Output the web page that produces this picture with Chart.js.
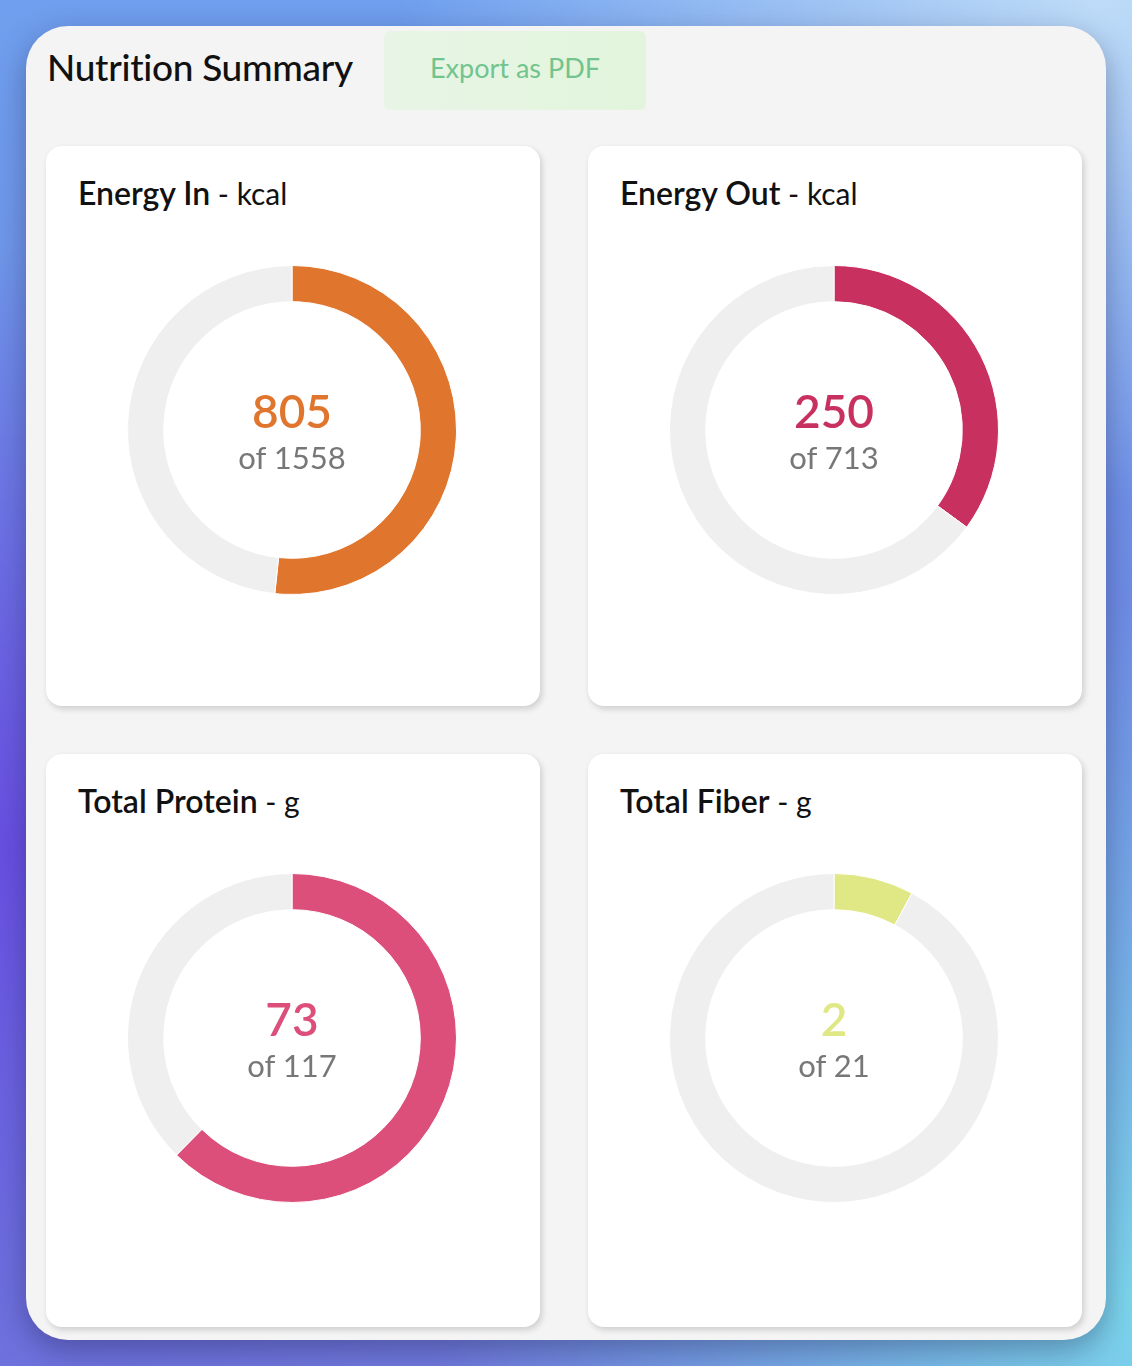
<!DOCTYPE html>
<html>
<head>
<meta charset="utf-8">
<script src="https://cdn.jsdelivr.net/npm/chart.js@4.4.1/dist/chart.umd.min.js"></script>
<style>
  html, body { margin: 0; padding: 0; }
  body {
    width: 1132px; height: 1366px; overflow: hidden; position: relative;
    font-family: Lato, "Noto Sans", sans-serif;
    background:
      radial-gradient(ellipse 700px 600px at 0px 850px, rgba(104, 76, 226, 0.95), rgba(104, 76, 226, 0) 100%),
      radial-gradient(ellipse 700px 700px at 1132px 1300px, rgba(124, 214, 236, 1), rgba(124, 214, 236, 0) 100%),
      radial-gradient(ellipse 700px 500px at 1100px 0px, rgba(190, 220, 248, 1), rgba(190, 220, 248, 0) 100%),
      linear-gradient(180deg, #6f9fee 0%, #6f8ee6 40%, #6f78dc 100%);
  }
  .panel {
    position: absolute; left: 26px; top: 26px; width: 1080px; height: 1314px;
    background: #f4f4f4; border-radius: 42px;
    box-shadow: 0 10px 30px rgba(20, 20, 60, 0.35);
  }
  .title {
    position: absolute; left: 21px; top: 19px; font-size: 37px; line-height: 44px;
    color: #111; font-weight: 500; letter-spacing: -0.3px;
  }
  .btn {
    position: absolute; left: 358px; top: 5px; width: 262px; height: 79px;
    background: linear-gradient(90deg, #e8f5e6, #e2f5dc); border-radius: 6px;
    color: #72c48e; font-size: 27px; line-height: 73px; text-align: center;
  }
  .card {
    position: absolute; width: 494px; background: #fff; border-radius: 16px;
    box-shadow: 2px 3px 6px rgba(0, 0, 0, 0.16);
  }
  .card h2 {
    position: absolute; left: 32px; top: 27px; margin: 0; font-size: 32px; line-height: 40px;
    font-weight: 600; color: #111; white-space: nowrap;
  }
  .card h2 span { font-weight: 400; font-size: 30px; }
  .ring { position: absolute; left: 81px; top: 119px; width: 330px; height: 330px; }
  .val, .goal { position: absolute; left: 0; width: 330px; text-align: center; white-space: nowrap; }
  .val { top: 123px; font-size: 46px; line-height: 46px; font-weight: 600; }
  .goal { top: 177px; font-size: 31px; line-height: 31px; color: #777; }
</style>
</head>
<body>
<div class="panel" id="panel">
  <div class="title">Nutrition Summary</div>
  <div class="btn">Export as PDF</div>
</div>
<script>
const cardTitles = ['Energy In', 'Energy Out', 'Total Protein', 'Total Fiber'];
const cardUnits = ['kcal', 'kcal', 'g', 'g'];
// consumed amounts (fiber arc shows ~1.65, label rounds to 2)
const consumed = [805, 250, 73, 1.65];
const goals = [1558, 713, 117, 21];

const ringColors = ['#e0762e', '#c8305f', '#dc4f7b', '#dfe885'];
const trackColor = '#efefef';
const cardPos = [[20, 120, 560], [562, 120, 560], [20, 728, 573], [562, 728, 573]];

const panel = document.getElementById('panel');

cardTitles.forEach((title, i) => {
    const card = document.createElement('div');
    card.className = 'card';
    card.style.left = cardPos[i][0] + 'px';
    card.style.top = cardPos[i][1] + 'px';
    card.style.height = cardPos[i][2] + 'px';
    card.innerHTML = `
      <h2>${title}<span> - ${cardUnits[i]}</span></h2>
      <div class="ring">
        <canvas id="ring${i}" width="330" height="330"></canvas>
        <div class="val" style="color:${ringColors[i]}">${Math.round(consumed[i])}</div>
        <div class="goal">of ${goals[i]}</div>
      </div>`;
    panel.appendChild(card);

    new Chart(document.getElementById('ring' + i), {
        type: 'doughnut',
        data: {
            labels: ['Consumed', 'Remaining'],
            datasets: [{
                data: [consumed[i], Math.max(goals[i] - consumed[i], 0)],
                backgroundColor: [ringColors[i], trackColor],
                borderColor: '#fff',
                borderWidth: 1
            }]
        },
        options: {
            responsive: false,
            animation: false,
            cutout: '78%',
            plugins: {
                legend: { display: false },
                tooltip: { enabled: false }
            }
        }
    });
});
</script>
</body>
</html>
